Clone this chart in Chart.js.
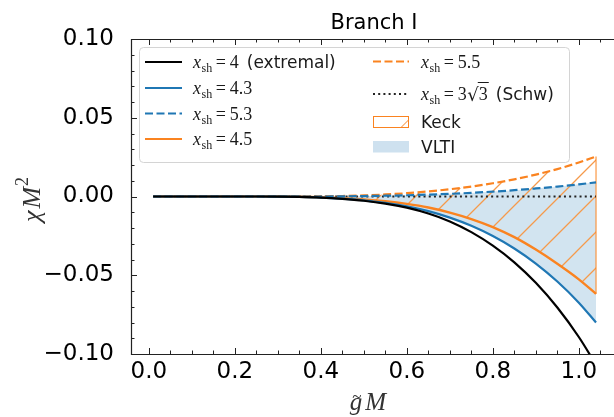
<!DOCTYPE html>
<html>
<head>
<meta charset="utf-8">
<script src="https://cdn.jsdelivr.net/npm/chart.js@4.4.1/dist/chart.umd.min.js"></script>
<style>
  html, body { margin: 0; padding: 0; background: #fff; overflow: hidden; }
</style>
</head>
<body>
<canvas id="myChart" width="614" height="417"></canvas>
<script>
// g~M values along the curves
var gM = [0.01, 0.05, 0.10, 0.15, 0.20, 0.25, 0.30, 0.35, 0.40, 0.45, 0.50,
          0.55, 0.60, 0.65, 0.70, 0.75, 0.80, 0.85, 0.90, 0.95, 1.00, 1.04];

// chi M^2 for each x_sh
var xsh40 = [0, 0, 0, 0, 0, 0, -0.0001, -0.0003, -0.0007, -0.0015, -0.0027,
             -0.0045, -0.0071, -0.0108, -0.0158, -0.0226, -0.0312, -0.0418, -0.0548, -0.0705, -0.0892, -0.1068];
var xsh43 = [0, 0, 0, 0, 0, 0, -0.0001, -0.0003, -0.0007, -0.0014, -0.0024,
             -0.0040, -0.0062, -0.0093, -0.0134, -0.0186, -0.0251, -0.0330, -0.0426, -0.0540, -0.0674, -0.0800];
var xsh45 = [0, 0, 0, 0, 0, 0, 0, -0.0002, -0.0005, -0.0010, -0.0018,
             -0.0030, -0.0047, -0.0070, -0.0102, -0.0143, -0.0194, -0.0258, -0.0337, -0.0427, -0.0526, -0.0618];
var xsh53 = [0, 0, 0, 0, 0, 0, 0, 0, 0.0000, 0.0001, 0.0003,
             0.0005, 0.0008, 0.0012, 0.0017, 0.0023, 0.0031, 0.0040, 0.0051, 0.0063, 0.0077, 0.0090];
var xsh55 = [0, 0, 0, 0, 0, 0, 0, 0, 0.0001, 0.0003, 0.0007,
             0.0013, 0.0021, 0.0032, 0.0046, 0.0063, 0.0084, 0.0109, 0.0139, 0.0174, 0.0216, 0.0254];
var schw = [0, 0, 0, 0, 0, 0, 0, 0, 0, 0, 0,
            0, 0, 0, 0, 0, 0, 0, 0, 0, 0, 0];

var xTicks = [0.0, 0.2, 0.4, 0.6, 0.8, 1.0];
var yTicks = [-0.10, -0.05, 0.00, 0.05, 0.10];

var C0 = '#1f77b4', C1 = '#fa8320', C_BLACK = '#000000';

function pts(arr) {
    return gM.map(function (x, i) { return {x: x, y: arr[i]}; });
}

function hatch() {
    var c = document.createElement('canvas');
    c.width = 36; c.height = 36;
    var g = c.getContext('2d');
    g.strokeStyle = '#f59a4c';
    g.lineWidth = 1.3;
    g.beginPath();
    g.moveTo(-2, 38); g.lineTo(38, -2);
    g.moveTo(-2, 2); g.lineTo(2, -2);
    g.moveTo(34, 38); g.lineTo(38, 34);
    g.stroke();
    return g.createPattern(c, 'repeat');
}

function minus(s) { return s.replace('-', '\u2212'); }

// x_sh = value, in a math-like serif
function drawXsh(ctx, x, y, val) {
    ctx.font = 'italic 18px "Liberation Serif"';
    ctx.fillText('x', x, y);
    x += ctx.measureText('x').width + 0.5;
    ctx.font = '12px "Liberation Serif"';
    ctx.fillText('sh', x, y + 4);
    x += ctx.measureText('sh').width + 3.5;
    ctx.font = '18px "Liberation Serif"';
    ctx.fillText('=', x, y);
    x += ctx.measureText('=').width + 4;
    ctx.fillText(val, x, y);
    return x + ctx.measureText(val).width;
}

var decor = {
    id: 'decor',
    afterDatasetsDraw: function (chart) {
        var ctx = chart.ctx;
        ctx.save();
        // legend frame
        ctx.beginPath();
        ctx.roundRect(139.5, 47.5, 430, 115, 4);
        ctx.fillStyle = 'rgba(255,255,255,0.85)';
        ctx.fill();
        ctx.strokeStyle = '#d4d4d4';
        ctx.lineWidth = 1;
        ctx.stroke();

        var rows1 = [62, 88, 113.5, 139];
        var rows2 = [61.5, 94, 122, 146.5];
        var s1 = [[C_BLACK, []], [C0, []], [C0, [8, 3.5]], [C1, []]];
        var vals1 = ['4', '4.3', '5.3', '4.5'];
        ctx.lineWidth = 2.2;
        for (var i = 0; i < 4; i++) {
            ctx.strokeStyle = s1[i][0];
            ctx.setLineDash(s1[i][1]);
            ctx.beginPath(); ctx.moveTo(145, rows1[i]); ctx.lineTo(182, rows1[i]); ctx.stroke();
        }
        ctx.strokeStyle = C1; ctx.setLineDash([8, 3.5]);
        ctx.beginPath(); ctx.moveTo(373, rows2[0]); ctx.lineTo(409, rows2[0]); ctx.stroke();
        ctx.strokeStyle = '#222'; ctx.setLineDash([2, 3.2]);
        ctx.beginPath(); ctx.moveTo(373, rows2[1]); ctx.lineTo(409, rows2[1]); ctx.stroke();
        ctx.setLineDash([]);
        // Keck patch
        ctx.fillStyle = '#fff';
        ctx.fillRect(373, 116.5, 36, 11);
        ctx.strokeStyle = C1; ctx.lineWidth = 1;
        ctx.strokeRect(373.5, 116.5, 35, 11);
        ctx.beginPath(); ctx.moveTo(401, 127.5); ctx.lineTo(408.5, 120); ctx.stroke();
        // VLTI patch
        ctx.fillStyle = 'rgba(31,119,180,0.22)';
        ctx.fillRect(373, 141, 36, 11.5);

        ctx.fillStyle = '#1a1a1a';
        ctx.textBaseline = 'alphabetic';
        for (var j = 0; j < 4; j++) {
            var e = drawXsh(ctx, 193, rows1[j] + 6, vals1[j]);
            if (j === 0) {
                ctx.font = '17px "DejaVu Sans"';
                ctx.fillText('(extremal)', e + 8, rows1[j] + 6);
            }
        }
        drawXsh(ctx, 421, rows2[0] + 6, '5.5');
        var e2 = drawXsh(ctx, 421, rows2[1] + 6, '3');
        ctx.font = '18px "DejaVu Sans"';
        ctx.fillText('\u221A', e2 + 0.5, rows2[1] + 7);
        var sq = e2 + 0.5 + ctx.measureText('\u221A').width;
        ctx.font = '18px "Liberation Serif"';
        ctx.fillText('3', sq, rows2[1] + 6);
        var sqEnd = sq + ctx.measureText('3').width + 1;
        ctx.strokeStyle = '#1a1a1a'; ctx.lineWidth = 1;
        ctx.beginPath(); ctx.moveTo(sq - 1, rows2[1] - 11.5); ctx.lineTo(sqEnd, rows2[1] - 11.5); ctx.stroke();
        ctx.font = '17px "DejaVu Sans"';
        ctx.fillText('(Schw)', sqEnd + 7, rows2[1] + 6);
        ctx.fillText('Keck', 421, rows2[2] + 6);
        ctx.fillText('VLTI', 421, rows2[3] + 6);
        ctx.restore();
    },
    afterDraw: function (chart) {
        var ctx = chart.ctx, a = chart.chartArea;
        var sx = chart.scales.x, sy = chart.scales.y;
        ctx.save();
        ctx.strokeStyle = '#222';
        ctx.lineWidth = 1.2;
        ctx.beginPath();
        ctx.moveTo(a.right, a.top + 0.5); ctx.lineTo(a.left + 0.5, a.top + 0.5);
        ctx.lineTo(a.left + 0.5, a.bottom + 0.5); ctx.lineTo(a.right, a.bottom + 0.5);
        ctx.stroke();
        ctx.lineWidth = 1;
        ctx.beginPath();
        for (var i = 0; i <= 21; i++) {
            var p = Math.round(sx.getPixelForValue(i * 0.05)) + 0.5;
            var len = (i % 4 === 0) ? 6 : 3.5;
            ctx.moveTo(p, a.bottom); ctx.lineTo(p, a.bottom - len);
            ctx.moveTo(p, a.top); ctx.lineTo(p, a.top + len);
        }
        for (var k = -10; k <= 10; k++) {
            var q = Math.round(sy.getPixelForValue(k * 0.01)) + 0.5;
            var l2 = (k % 5 === 0) ? 6 : 3.5;
            ctx.moveTo(a.left, q); ctx.lineTo(a.left + l2, q);
        }
        ctx.stroke();

        // title
        ctx.fillStyle = '#000';
        ctx.textAlign = 'center';
        ctx.textBaseline = 'alphabetic';
        ctx.font = '21px "DejaVu Sans"';
        ctx.fillText('Branch I', 374, 29);

        // x title: g~ M
        ctx.fillStyle = '#333';
        ctx.textAlign = 'left';
        ctx.font = 'italic 25px "Liberation Serif"';
        var wg = ctx.measureText('g').width, wm = ctx.measureText('M').width;
        var x0 = 368 - (wg + wm + 3) / 2;
        ctx.fillText('g', x0, 410);
        ctx.fillText('M', x0 + wg + 3, 410);
        ctx.font = '17px "Liberation Serif"';
        ctx.fillText('~', x0 + 2.5, 402);

        // y title: chi M^2
        ctx.translate(31, 200);
        ctx.rotate(-Math.PI / 2);
        ctx.font = 'italic 26px "Liberation Serif"';
        var wc = ctx.measureText('\u03C7').width, wM = ctx.measureText('M').width;
        ctx.font = '18px "Liberation Serif"';
        var w2 = ctx.measureText('2').width;
        var y0 = -(wc + wM + w2 + 2) / 2;
        ctx.font = 'italic 26px "Liberation Serif"';
        ctx.fillText('\u03C7', y0, 9);
        ctx.fillText('M', y0 + wc + 2, 9);
        ctx.font = '18px "Liberation Serif"';
        ctx.fillText('2', y0 + wc + wM + 3, -3);
        ctx.restore();
    }
};

function line(arr, color, dash, width) {
    return {
        data: pts(arr),
        borderColor: color,
        borderDash: dash,
        borderWidth: width,
        pointRadius: 0,
        fill: false,
        cubicInterpolationMode: 'monotone'
    };
}

var keckEdge = [{x: gM[gM.length - 1], y: xsh45[xsh45.length - 1]},
                {x: gM[gM.length - 1], y: xsh55[xsh55.length - 1]}];

var ctx = document.getElementById('myChart');
var myChart = new Chart(ctx, {
    type: 'line',
    data: {
        datasets: [
            line(xsh40, C_BLACK, [], 2.2),
            line(xsh43, C0, [], 2.2),
            line(xsh53, C0, [8, 3.5], 2.2),
            line(xsh45, C1, [], 2.4),
            line(xsh55, C1, [8, 3.5], 2.2),
            line(schw, '#222', [2, 3.2], 2.2),
            {data: keckEdge, borderColor: C1, borderWidth: 1, pointRadius: 0, fill: false},
            {data: pts(xsh55), borderWidth: 0, pointRadius: 0, fill: 3,
             backgroundColor: hatch(), cubicInterpolationMode: 'monotone'},
            {data: pts(xsh53), borderWidth: 0, pointRadius: 0, fill: 1,
             backgroundColor: 'rgba(31,119,180,0.2)', cubicInterpolationMode: 'monotone'}
        ]
    },
    options: {
        responsive: false,
        animation: false,
        devicePixelRatio: 1,
        layout: {padding: {top: 39, right: 0, left: 0, bottom: 0}},
        plugins: {
            legend: {display: false},
            tooltip: {enabled: false},
            filler: {drawTime: 'beforeDatasetsDraw'}
        },
        scales: {
            x: {
                type: 'linear',
                min: -0.0415,
                max: 1.0818,
                grid: {display: false},
                border: {display: false},
                afterBuildTicks: function (s) { s.ticks = xTicks.map(function (v) { return {value: v}; }); },
                afterFit: function (s) { s.height = 63; },
                ticks: {
                    color: '#000',
                    padding: -4,
                    maxRotation: 0,
                    font: {family: 'DejaVu Sans', size: 23},
                    callback: function (v) { return v.toFixed(1); }
                }
            },
            y: {
                type: 'linear',
                min: -0.1,
                max: 0.1,
                grid: {display: false},
                border: {display: false},
                afterBuildTicks: function (s) { s.ticks = yTicks.map(function (v) { return {value: v}; }); },
                afterFit: function (s) { s.width = 131; },
                ticks: {
                    color: '#000',
                    padding: 9,
                    font: {family: 'DejaVu Sans', size: 23},
                    callback: function (v) { return minus(v.toFixed(2)); }
                }
            }
        }
    },
    plugins: [decor]
});
</script>
</body>
</html>
